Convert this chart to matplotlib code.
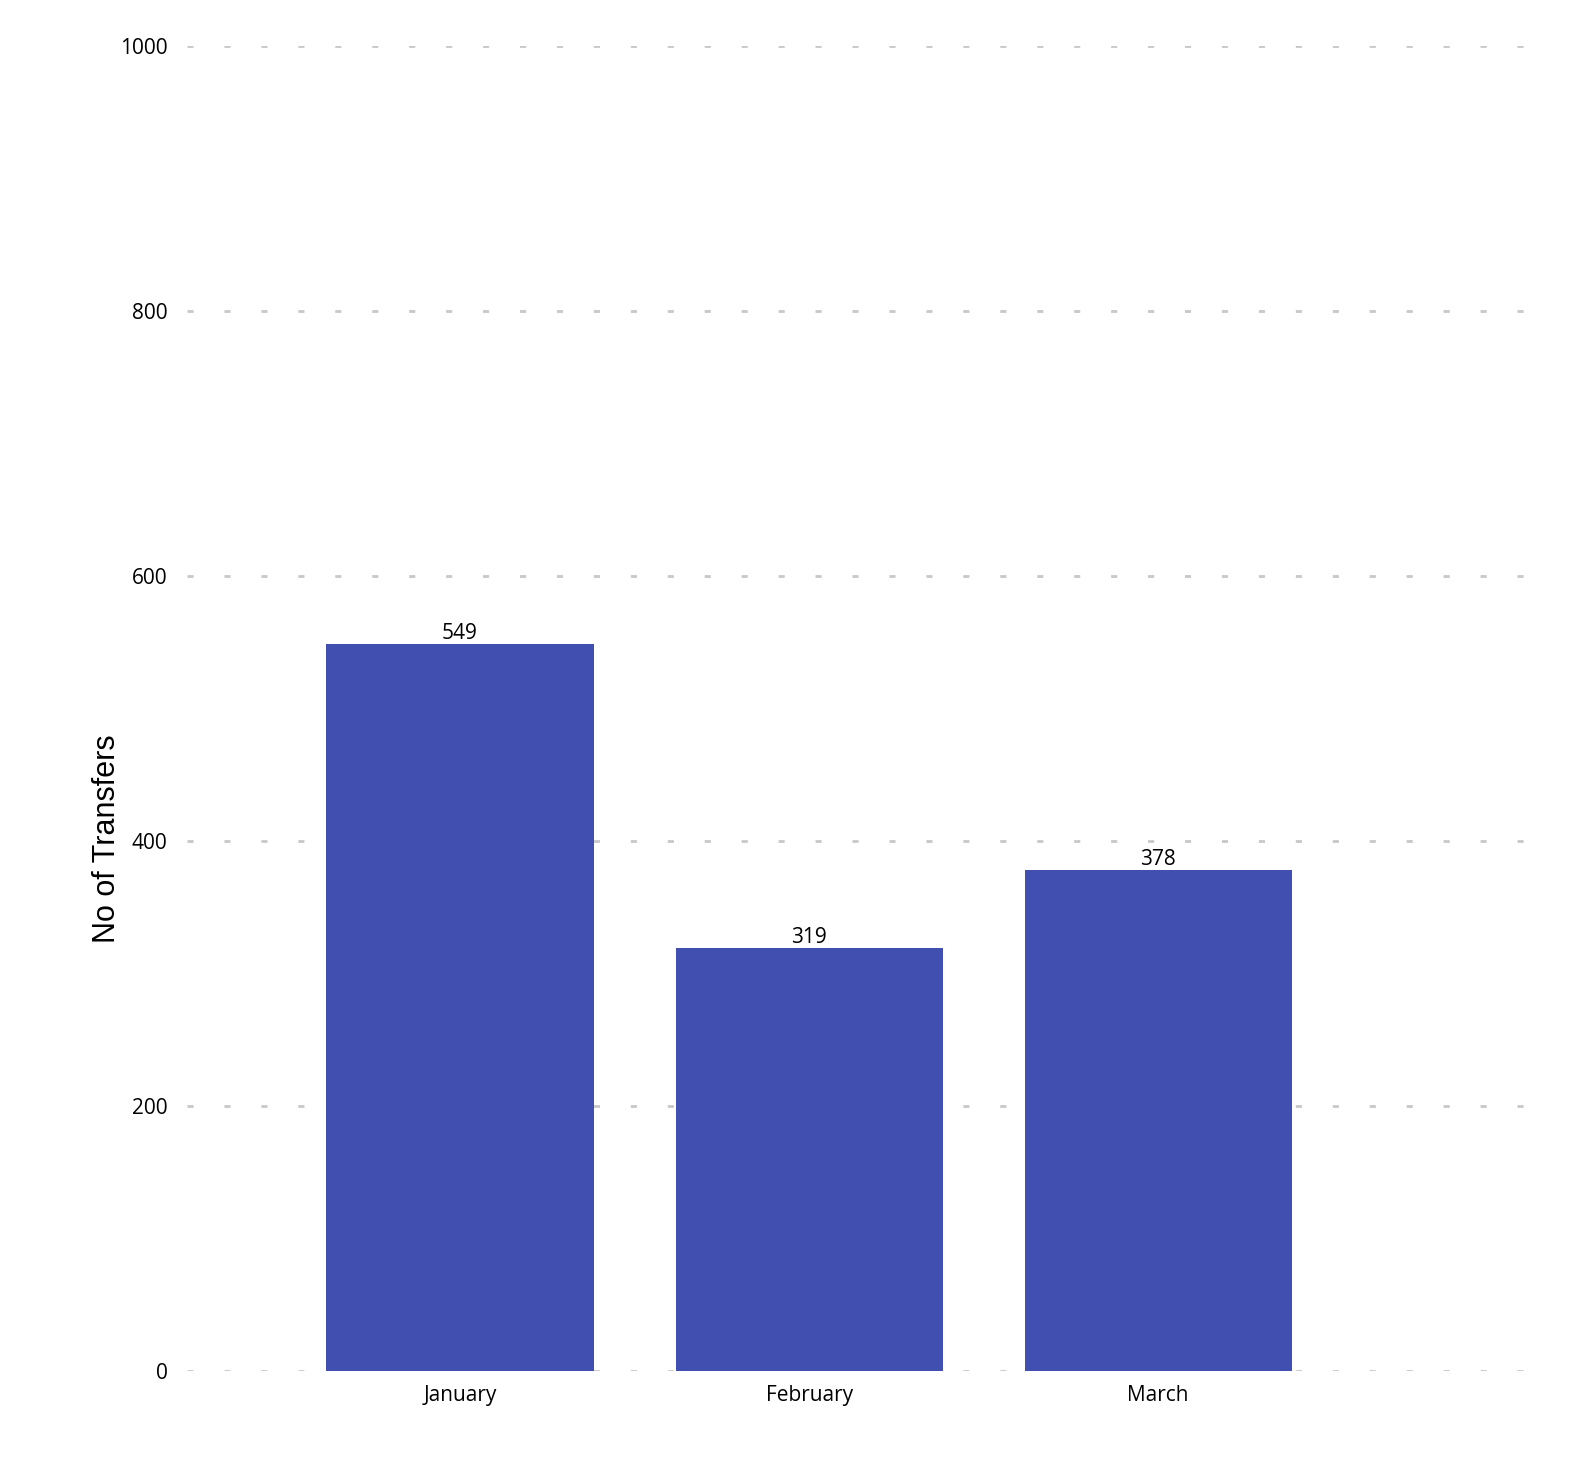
import matplotlib
matplotlib.use('Agg')
import matplotlib.pyplot as plt

months = ['January', 'February', 'March']
transfers = [549, 319, 378]
y_ticks = [0, 200, 400, 600, 800, 1000]

bar_color = '#4150b0'
grid_color = '#c8c8c8'
tick_font = 'Open Sans'

fig = plt.figure(figsize=(15.85, 14.82), dpi=100)
ax = fig.add_axes([0.118, 0.0749, 0.857, 0.894])

x = list(range(len(months)))
bars = ax.bar(x, transfers, width=0.765, color=bar_color, zorder=2)

for b, v in zip(bars, transfers):
    ax.text(b.get_x() + b.get_width() / 2, v, str(v), ha='center', va='bottom',
            fontsize=15, family=tick_font, color='black')

ax.set_xlim(-0.782, 3.109)
ax.set_ylim(0, 1000)
ax.set_yticks(y_ticks)
ax.set_yticklabels([str(t) for t in y_ticks], fontsize=15, family=tick_font)
ax.set_xticks(x)
ax.set_xticklabels(months, fontsize=15, family=tick_font)
ax.tick_params(axis='y', length=0, pad=14)
ax.tick_params(axis='x', length=0, pad=10)

# short grey dashes, about 6px long every 37px
ax.yaxis.grid(True, color=grid_color, linewidth=2, linestyle=(0, (2.2, 11.1)), zorder=1)
ax.set_axisbelow(True)
for s in ax.spines.values():
    s.set_visible(False)

ax.set_ylabel('No of Transfers', fontsize=22, family='Liberation Sans')
ax.yaxis.set_label_coords(-0.048, 0.402)

fig.savefig('out.png', dpi=100)
